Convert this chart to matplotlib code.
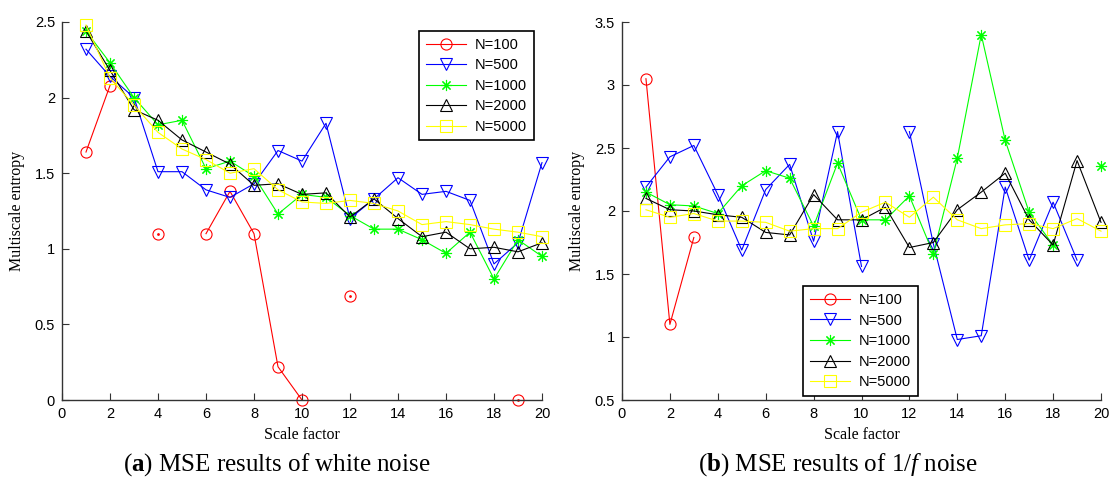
import numpy as np
import matplotlib
matplotlib.use("Agg")
import matplotlib.pyplot as plt

nan = np.nan

# scale factors
scales = np.arange(1, 21)
labels = ["N=100", "N=500", "N=1000", "N=2000", "N=5000"]

# (a) white noise
white_100 = [1.64, 2.08, nan, 1.10, nan, 1.10, 1.38, 1.10, 0.22, 0.00,
             nan, 0.69, nan, nan, nan, nan, nan, nan, 0.00, nan]
white_500 = [2.32, 2.14, 2.00, 1.51, 1.51, 1.39, 1.34, 1.43, 1.65, 1.58,
             1.83, 1.20, 1.33, 1.47, 1.36, 1.38, 1.32, 0.90, 1.04, 1.57]
white_1000 = [2.44, 2.23, 2.00, 1.82, 1.85, 1.53, 1.58, 1.48, 1.23, 1.36,
              1.34, 1.22, 1.13, 1.13, 1.06, 0.97, 1.11, 0.80, 1.06, 0.95]
white_2000 = [2.44, 2.18, 1.92, 1.85, 1.72, 1.64, 1.56, 1.42, 1.43, 1.36,
              1.37, 1.21, 1.33, 1.20, 1.08, 1.11, 1.00, 1.01, 0.98, 1.04]
white_5000 = [2.48, 2.13, 1.95, 1.77, 1.66, 1.59, 1.50, 1.53, 1.39, 1.31,
              1.30, 1.32, 1.30, 1.25, 1.16, 1.18, 1.16, 1.13, 1.11, 1.08]

# (b) 1/f noise
pink_100 = [3.05, 1.10, 1.79, nan, nan, nan, nan, nan, nan, nan,
            nan, nan, nan, nan, nan, nan, nan, nan, nan, nan]
pink_500 = [2.19, 2.43, 2.52, 2.13, 1.69, 2.17, 2.37, 1.76, 2.63, 1.56,
            nan, 2.63, 1.74, 0.98, 1.01, 2.19, 1.61, 2.07, 1.61, nan]
pink_1000 = [2.15, 2.05, 2.04, 1.98, 2.20, 2.32, 2.26, 1.88, 2.38, 1.93,
             1.93, 2.12, 1.66, 2.42, 3.40, 2.56, 1.99, 1.73, nan, 2.36]
pink_2000 = [2.10, 2.01, 2.00, 1.97, 1.95, 1.83, 1.81, 2.13, 1.93, 1.93,
             2.03, 1.71, 1.75, 2.01, 2.15, 2.30, 1.93, 1.73, 2.40, 1.91]
pink_5000 = [2.01, 1.95, 1.98, 1.92, 1.92, 1.91, 1.84, 1.86, 1.86, 1.99,
             2.07, 1.95, 2.11, 1.93, 1.86, 1.89, 1.90, 1.86, 1.94, 1.84]

colors = ["#ff0000", "#0000ff", "#00ff00", "#000000", "#ffff00"]
markers = ["o", "v", (8, 2, 0), "^", "s"]
msizes = [8, 9, 8, 9, 8]

plt.rcParams["mathtext.fontset"] = "custom"
plt.rcParams["mathtext.rm"] = "Liberation Serif"
plt.rcParams["mathtext.it"] = "Liberation Serif:italic"
plt.rcParams["mathtext.bf"] = "Liberation Serif:bold"

fig = plt.figure(figsize=(11.1, 4.8), dpi=100)
ax1 = fig.add_axes([62 / 1110, 80 / 480, 480 / 1110, 378 / 480])
ax2 = fig.add_axes([622 / 1110, 80 / 480, 479 / 1110, 378 / 480])


def draw(ax, series, ylim, yticks, leg_loc, leg_anchor):
    for vals, c, m, ms, lab in zip(series, colors, markers, msizes, labels):
        y = np.array(vals, dtype=float)
        ax.plot(scales, y, color=c, lw=0.8, marker=m, ms=ms, mfc="none",
                mec=c, mew=0.8, label=lab, clip_on=False)
        # lone points get the little centre dot matlab draws
        prev = np.concatenate([[nan], y[:-1]])
        nxt = np.concatenate([y[1:], [nan]])
        lone = ~np.isnan(y) & np.isnan(prev) & np.isnan(nxt)
        if m == "o":
            ax.plot(scales[lone], y[lone], ls="none", marker="o", ms=2,
                    color=c, mew=0, clip_on=False)
    ax.set_xlim(0, 20)
    ax.set_ylim(*ylim)
    ax.set_xticks(np.arange(0, 21, 2))
    ax.set_yticks(yticks)
    ax.set_yticklabels(["%g" % t for t in yticks])
    for s in ["top", "right"]:
        ax.spines[s].set_visible(False)
    for s in ["left", "bottom"]:
        ax.spines[s].set_color("#333333")
        ax.spines[s].set_linewidth(1.0)
    ax.tick_params(direction="in", length=5, width=0.8, color="#333333",
                   labelsize=10.5, pad=5)
    for t in ax.get_xticklabels() + ax.get_yticklabels():
        t.set_fontfamily(["Liberation Sans", "DejaVu Sans"])
    ax.set_xlabel("Scale factor", family="Liberation Serif", fontsize=11.5)
    ax.set_ylabel("Multiscale entropy", family="Liberation Serif", fontsize=11.5)
    ax.xaxis.set_label_coords(0.5, -0.072)
    ax.yaxis.set_label_coords(-0.078, 0.5)
    leg = ax.legend(loc=leg_loc, bbox_to_anchor=leg_anchor, fancybox=False,
                    framealpha=1, edgecolor="black", handlelength=2.8,
                    borderpad=0.45, labelspacing=0.45, handletextpad=0.6,
                    borderaxespad=0,
                    prop={"family": "Liberation Sans", "size": 10.5})
    leg.get_frame().set_linewidth(1.2)
    leg.set_zorder(5)


draw(ax1, [white_100, white_500, white_1000, white_2000, white_5000],
     (0, 2.5), [0, 0.5, 1, 1.5, 2, 2.5], "upper right", (0.983, 0.976))
draw(ax2, [pink_100, pink_500, pink_1000, pink_2000, pink_5000],
     (0.5, 3.5), [0.5, 1, 1.5, 2, 2.5, 3, 3.5], "lower left", (0.378, 0.011))

fig.text(277 / 1110, 1 - 465 / 480, r"($\mathbf{a}$) MSE results of white noise",
         ha="center", va="center", family="Liberation Serif", fontsize=18)
fig.text(838 / 1110, 1 - 465 / 480, r"($\mathbf{b}$) MSE results of 1/$\mathit{f}$ noise",
         ha="center", va="center", family="Liberation Serif", fontsize=18)

fig.savefig("out.png", dpi=100)
